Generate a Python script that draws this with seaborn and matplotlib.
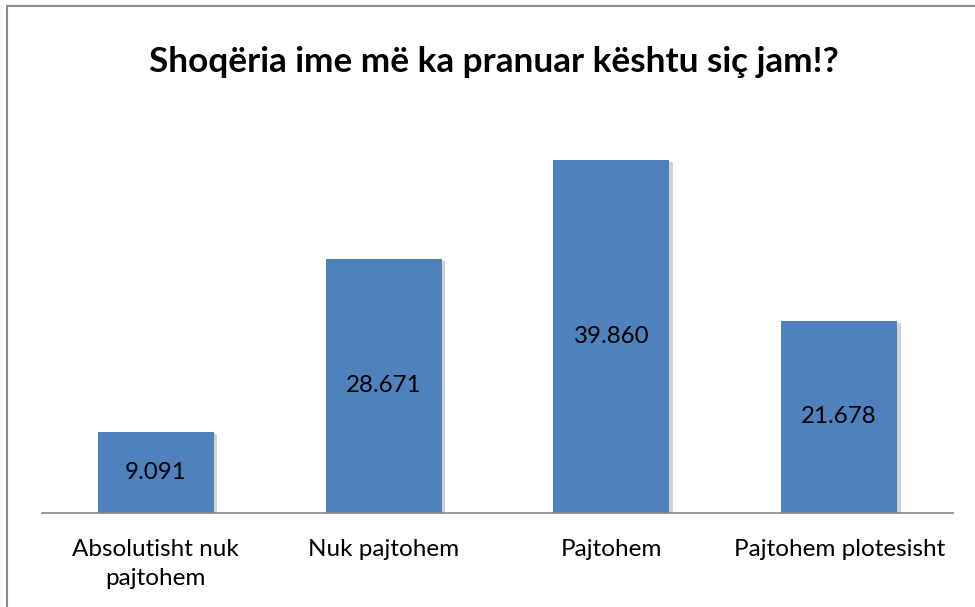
import numpy as np
import pandas as pd
import seaborn as sns
from matplotlib import pyplot as plt
from matplotlib import patheffects as pe
from matplotlib.patches import Rectangle

categories = ['Absolutisht nuk\npajtohem', 'Nuk pajtohem', 'Pajtohem', 'Pajtohem plotesisht']
values = [9.091, 28.671, 39.860, 21.678]
value_labels = ['9.091', '28.671', '39.860', '21.678']
title = 'Shoqëria ime më ka pranuar kështu siç jam!?'

sns.set_style('white')
plt.rcParams['font.family'] = ['Lato', 'DejaVu Sans']

df = pd.DataFrame({'cat': categories, 'val': values})

W, H = 975, 607
fig = plt.figure(figsize=(W / 100, H / 100), dpi=100)
# axes placed in pixel terms: baseline at y=513, x from 42 to 953, top at y=114 (value 45)
ax = fig.add_axes([42 / W, (H - 513) / H, (953 - 42) / W, (513 - 114) / H])

sns.barplot(data=df, x='cat', y='val', color='#4F81BD', saturation=1, width=0.51, ax=ax)
for p in ax.patches:
    p.set_path_effects([pe.SimplePatchShadow(offset=(2.5, -1.5), shadow_rgbFace='#000000', alpha=0.18), pe.Normal()])
    p.set_edgecolor('none')

for i, (v, lab) in enumerate(zip(values, value_labels)):
    ax.text(i, v / 2, lab, ha='center', va='center', fontsize=17.4, color='black')

ax.set_ylim(0, 45)
ax.set_xlim(-0.5, 3.5)
ax.set_yticks([])
ax.set_xlabel('')
ax.set_ylabel('')
for s in ['top', 'right', 'left']:
    ax.spines[s].set_visible(False)
ax.spines['bottom'].set_color('#868686')
ax.spines['bottom'].set_linewidth(1.2)
ax.tick_params(axis='x', length=0, pad=19, labelsize=17.5, labelcolor='black')
for t in ax.get_xticklabels():
    t.set_verticalalignment('top')
    t.set_linespacing(1.45)

fig.text(494 / W, 1 - 62 / H, title, ha='center', va='center', fontsize=25.3, fontweight='bold', color='black')

# outer chart border
fig.add_artist(Rectangle((7 / W, -0.01), 1.0, 1 - 6 / H + 0.01, transform=fig.transFigure,
                         fill=False, edgecolor='#8c8c8c', linewidth=1.5))

fig.savefig('out.png', dpi=100)
